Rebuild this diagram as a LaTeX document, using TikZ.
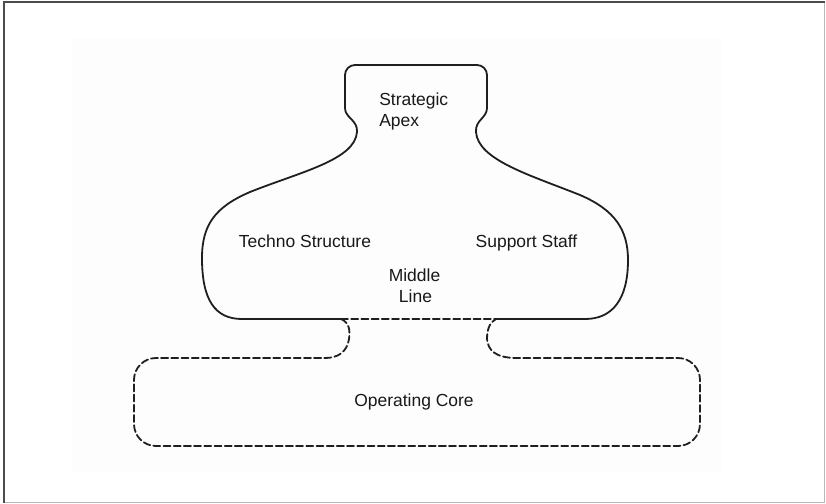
\documentclass[tikz,border=0pt]{standalone}
\usepackage{fontspec}
\setmainfont{Liberation Sans}
\begin{document}
\begin{tikzpicture}[x=0.75pt,y=-0.75pt,
  outline/.style={line width=1.35pt,draw=black!88,line join=round,line cap=round},
  dashline/.style={outline,dash pattern=on 5.25pt off 2.4pt},
  lbl/.style={inner sep=0pt,font=\fontsize{13.1pt}{15.75pt}\selectfont,text=black!90}]
\useasboundingbox (0,0) rectangle (826,504);
% page, scan area, frame
\fill[white] (0,0) rectangle (826,504);
\fill[black!0.6] (72,38) rectangle (722,471);
\draw[gray!55,line width=0.8pt] (824.5,2) -- (824.5,502.5) -- (4,502.5);
\draw[black!70,line width=1.1pt] (4,502.5) -- (4,2) -- (824.5,2);
% upper shape (solid)
\coordinate (nl) at (341,319);
\coordinate (nr) at (496,319);
\draw[outline] (nl) -- (242,319)
  .. controls (215,319) and (202,300) .. (202,258)
  .. controls (202,225) and (215,207) .. (250,192)
  .. controls (300,172) and (355,160) .. (357,132)
  .. controls (358,120) and (345,118) .. (345,108)
  -- (345,75) arc[start angle=180,end angle=270,radius=10]
  -- (477,65) arc[start angle=270,end angle=360,radius=10]
  -- (487,108)
  .. controls (487,118) and (475,120) .. (476,132)
  .. controls (478,160) and (530,175) .. (580,195)
  .. controls (615,210) and (628,230) .. (628,260)
  .. controls (628,300) and (612,319) .. (585,319)
  -- (nr);
% lower shape (dashed)
\draw[dashline] (nl) -- (nr);
\draw[dashline] (nl)
  .. controls (350,323) and (350,331) .. (349,339)
  .. controls (347,352) and (338,358) .. (325,358)
  -- (156,358) arc[start angle=270,end angle=180,radius=22]
  -- (134,424) arc[start angle=180,end angle=90,radius=22]
  -- (678,446) arc[start angle=90,end angle=0,radius=22]
  -- (700,380) arc[start angle=0,end angle=-90,radius=22]
  -- (517,358)
  .. controls (495,358) and (488,350) .. (487,339)
  .. controls (487,329) and (490,322) .. (nr);
% labels
\node[lbl,anchor=base west] (apex1) at (379,105) {Strategic};
\node[lbl,anchor=base west] (apex2) at (379,126) {Apex};
\node[lbl,anchor=base] (techno) at (305,247) {Techno Structure};
\node[lbl,anchor=base] (support) at (526.5,247) {Support Staff};
\node[lbl,anchor=base] (middle1) at (414.5,281) {Middle};
\node[lbl,anchor=base] (middle2) at (415.5,302) {Line};
\node[lbl,anchor=base] (core) at (414,406) {Operating Core};
\end{tikzpicture}
\end{document}
